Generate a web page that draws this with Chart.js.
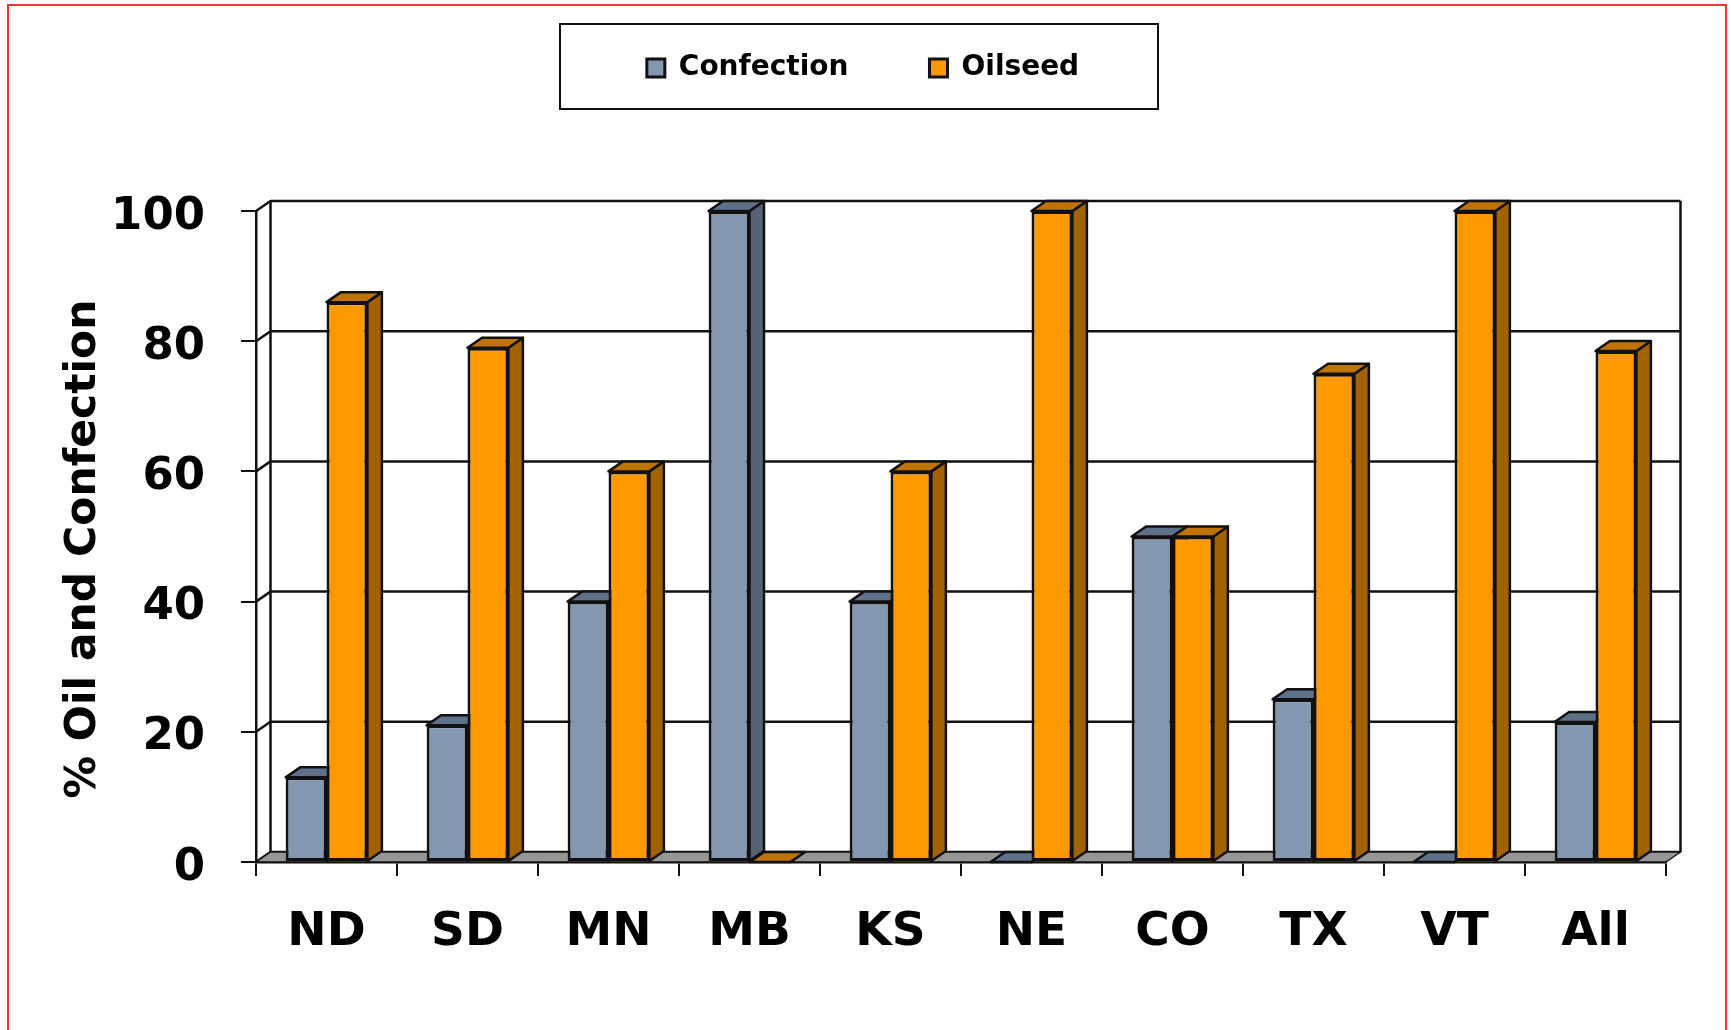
<!DOCTYPE html>
<html>
<head>
<meta charset="utf-8">
<title>% Oil and Confection</title>
<script src="https://cdn.jsdelivr.net/npm/chart.js@4"></script>
<style>
  html, body { margin: 0; padding: 0; width: 1731px; height: 1030px; overflow: hidden; background: #fff; }
  #myChart { position: absolute; left: 0; top: 0; }
  .frame { position: absolute; left: 7px; top: 4px; width: 1716px; height: 1200px; border: 2px solid #f33333; pointer-events: none; }
</style>
</head>
<body>
<canvas id="myChart" width="1731" height="1030"></canvas>
<div class="frame"></div>
<script>
let categories = ["ND", "SD", "MN", "MB", "KS", "NE", "CO", "TX", "VT", "All"];
let confection = [13, 21, 40, 100, 40, 0, 50, 25, 0, 21.5];
let oilseed = [86, 79, 60, 0, 60, 100, 50, 75, 100, 78.5];
let yTicks = [0, 20, 40, 60, 80, 100];

const fontName = "'DejaVu Sans', sans-serif";
const depthX = 14.5;
const depthY = 10;
const lineColor = "#111111";

let shape = (ctx, points, fill) => {
  ctx.beginPath();
  points.forEach((p, i) => (i ? ctx.lineTo(p[0], p[1]) : ctx.moveTo(p[0], p[1])));
  ctx.closePath();
  ctx.fillStyle = fill;
  ctx.fill();
  ctx.stroke();
};

// walls, floor and the depth faces of the bars, Chart.js paints the front faces after this
const depthPlugin = {
  id: "depthPlugin",
  afterLayout(chart) {
    chart.legend.top = -27;
    chart.legend.left += 30;
    chart.legend.right += 30;
  },
  beforeDatasetsDraw(chart) {
    const { ctx, chartArea, scales } = chart;
    const { left, right, bottom } = chartArea;
    ctx.save();
    ctx.strokeStyle = lineColor;
    ctx.lineWidth = 2.5;
    ctx.lineJoin = "round";

    yTicks.forEach((v) => {
      let y = scales.y.getPixelForValue(v);
      ctx.beginPath();
      ctx.moveTo(left, y);
      ctx.lineTo(left + depthX, y - depthY);
      ctx.lineTo(right + depthX, y - depthY);
      ctx.stroke();
    });
    let topY = scales.y.getPixelForValue(100) - depthY;
    ctx.beginPath();
    ctx.moveTo(left + depthX, topY);
    ctx.lineTo(left + depthX, bottom - depthY);
    ctx.moveTo(right + depthX, topY);
    ctx.lineTo(right + depthX, bottom - depthY);
    ctx.stroke();

    ctx.lineWidth = 1.5;
    shape(ctx, [
      [left, bottom],
      [right, bottom],
      [right + depthX, bottom - depthY],
      [left + depthX, bottom - depthY],
    ], "#969696");

    ctx.lineWidth = 2.5;
    chart.data.datasets.forEach((set, d) => {
      chart.getDatasetMeta(d).data.forEach((bar) => {
        let x0 = bar.x - bar.width / 2;
        let x1 = bar.x + bar.width / 2;
        shape(ctx, [
          [x1, bar.y],
          [x1 + depthX, bar.y - depthY],
          [x1 + depthX, bar.base - depthY],
          [x1, bar.base],
        ], set.sideColor);
        shape(ctx, [
          [x0, bar.y],
          [x1, bar.y],
          [x1 + depthX, bar.y - depthY],
          [x0 + depthX, bar.y - depthY],
        ], set.topColor);
      });
    });
    ctx.restore();
  },
  afterDraw(chart) {
    const { ctx } = chart;
    ctx.save();
    ctx.strokeStyle = lineColor;
    ctx.lineWidth = 2;
    ctx.strokeRect(560, 24, 598, 85);
    ctx.translate(84, 549);
    ctx.rotate(-Math.PI / 2);
    ctx.fillStyle = "#000";
    ctx.font = "bold 42.5px " + fontName;
    ctx.textAlign = "center";
    ctx.textBaseline = "middle";
    ctx.fillText("% Oil and Confection", 0, 0);
    ctx.restore();
  },
};

const barChart = new Chart(document.getElementById("myChart").getContext("2d"), {
  type: "bar",
  data: {
    labels: categories,
    datasets: [
      {
        label: "Confection",
        data: confection,
        backgroundColor: "#8497B0",
        topColor: "#5F7189",
        sideColor: "#566173",
        borderColor: lineColor,
        borderWidth: 3,
        borderSkipped: false,
      },
      {
        label: "Oilseed",
        data: oilseed,
        backgroundColor: "#FF9900",
        topColor: "#BF7300",
        sideColor: "#A36200",
        borderColor: lineColor,
        borderWidth: 3,
        borderSkipped: false,
      },
    ],
  },
  options: {
    responsive: false,
    animation: false,
    layout: { padding: { top: 92, right: 65, left: 0, bottom: 0 } },
    datasets: { bar: { categoryPercentage: 0.58, barPercentage: 1 } },
    plugins: {
      legend: {
        position: "top",
        labels: {
          color: "#000",
          font: { family: fontName, size: 28, weight: "bold" },
          boxWidth: 18,
          boxHeight: 18,
          padding: 81,
        },
      },
      tooltip: { enabled: false },
    },
    scales: {
      x: {
        afterFit: (scale) => {
          scale.height = 168;
        },
        grid: { drawOnChartArea: false, color: lineColor, lineWidth: 2, tickLength: 14 },
        border: { color: lineColor, width: 2.5 },
        ticks: {
          color: "#000",
          font: { family: fontName, size: 47, weight: "bold" },
          padding: 29,
          maxRotation: 0,
        },
      },
      y: {
        min: 0,
        max: 100,
        afterBuildTicks: (scale) => {
          scale.ticks = yTicks.map((v) => ({ value: v }));
        },
        afterFit: (scale) => {
          scale.width = 256;
        },
        grid: { drawOnChartArea: false, color: lineColor, lineWidth: 2, tickLength: 15 },
        border: { color: lineColor, width: 2.5 },
        ticks: {
          color: "#000",
          font: { family: fontName, size: 45, weight: "bold" },
          padding: 36,
          labelOffset: 6,
        },
      },
    },
  },
  plugins: [depthPlugin],
});
</script>
</body>
</html>
